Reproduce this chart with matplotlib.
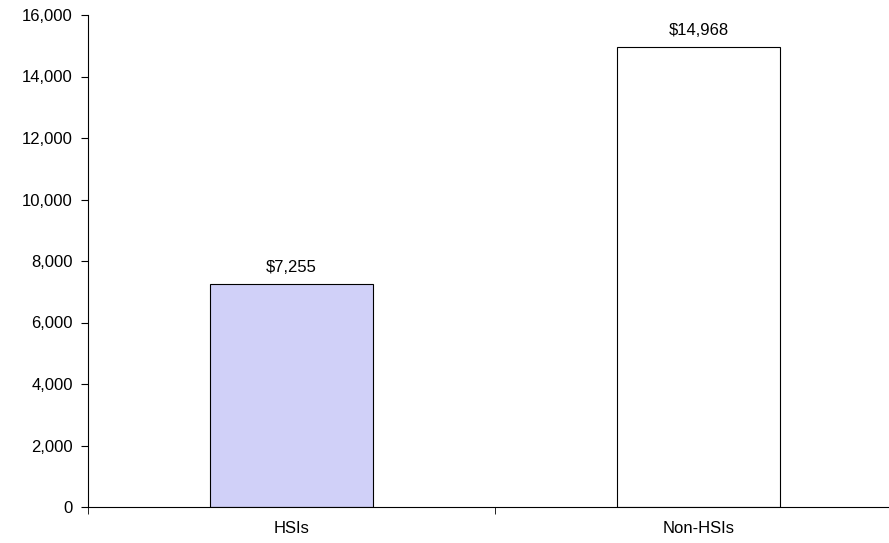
import numpy as np
import matplotlib.pyplot as plt

categories = ["HSIs", "Non-HSIs"]
values = [7255, 14968]
value_labels = ["\\$7,255", "\\$14,968"]

plt.rcParams['font.family'] = ['Liberation Sans', 'DejaVu Sans']

fig = plt.figure(figsize=(8.89, 5.43), dpi=100)
ax = fig.add_axes([88/889, 36/543, 814/889, 492/543])

x = np.arange(len(categories))
ax.bar(x, values, width=0.40, color=["#d0d0f8", "white"], edgecolor="black", linewidth=0.8)
for xi, v, lab in zip(x, values, value_labels):
    ax.text(xi, v + 300, lab, ha="center", va="bottom", fontsize=12)

ax.set_xlim(-0.5, 1.5)
ax.set_ylim(0, 16000)
ax.set_yticks(np.arange(0, 16001, 2000))
ax.set_yticklabels([f"{t:,}" for t in range(0, 16001, 2000)], fontsize=12)
ax.set_xticks(x)
ax.set_xticklabels(categories, fontsize=12)
ax.tick_params(axis="x", length=0, pad=10)
ax.set_xticks([-0.5, 0.5, 1.5], minor=True)
ax.tick_params(axis="x", which="minor", length=5, direction="out")
ax.tick_params(axis="y", length=5, direction="out", pad=6)

for s in ["top", "right"]:
    ax.spines[s].set_visible(False)
ax.spines["left"].set_linewidth(0.8)
ax.spines["bottom"].set_linewidth(0.8)

fig.savefig("out.png", dpi=100)
